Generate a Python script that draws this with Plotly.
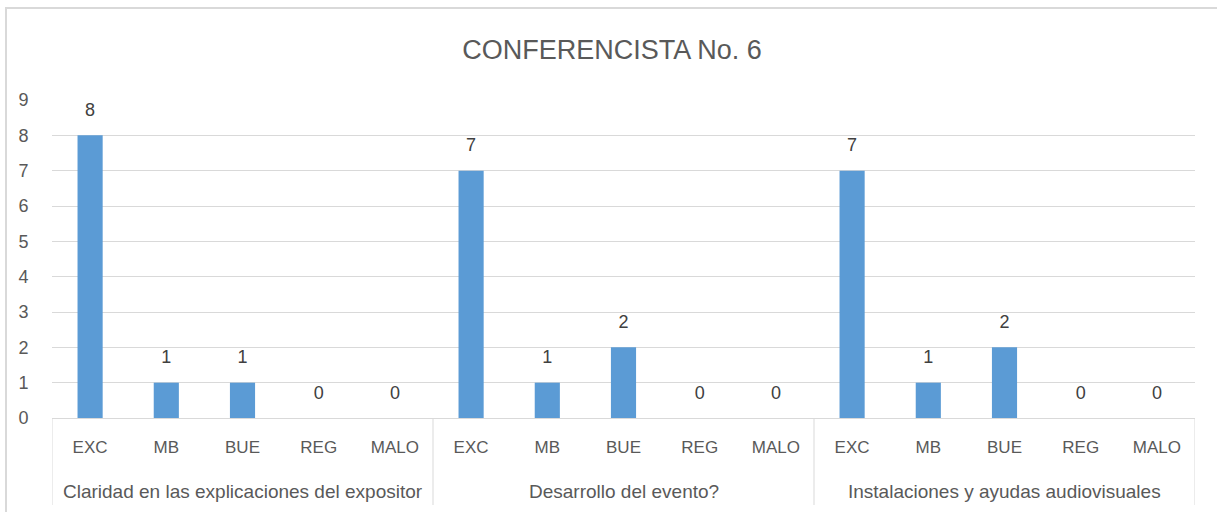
import plotly.graph_objects as go

groups = ["Claridad en las explicaciones del expositor", "Desarrollo del evento?", "Instalaciones y ayudas audiovisuales"]
ratings = ["EXC", "MB", "BUE", "REG", "MALO"]
values = [
    [8, 1, 1, 0, 0],
    [7, 1, 2, 0, 0],
    [7, 1, 2, 0, 0],
]
y_ticks = list(range(0, 10))
title = "CONFERENCISTA No. 6"

n = len(ratings)
xs = list(range(len(groups) * n))
inner = [r for _ in groups for r in ratings]
vals = [v for row in values for v in row]

FONT = "Liberation Sans"
TXT = "#595959"
GRID = "#d9d9d9"

# plot-area geometry (px)
L, R, T, B, W, H = 52, 1195, 100, 418, 1217, 512
PW, PH = R - L, B - T

fig = go.Figure()
fig.add_trace(go.Bar(
    x=xs, y=vals,
    marker=dict(color="#5b9bd5", line=dict(width=0)),
    hoverinfo="y",
))
fig.add_trace(go.Scatter(
    x=xs, y=vals,
    mode="markers+text",
    text=[str(v) for v in vals],
    textposition="top center",
    marker=dict(size=22, opacity=0),
    textfont=dict(family=FONT, size=18, color="#404040"),
    cliponaxis=False,
    hoverinfo="skip",
))

annotations = []
for gi, g in enumerate(groups):
    annotations.append(dict(
        text=g, x=gi * n + (n - 1) / 2, xref="x", y=-73 / PH, yref="paper",
        xanchor="center", yanchor="middle", showarrow=False,
        font=dict(family=FONT, size=19, color=TXT),
    ))

shapes = [
    dict(type="rect", xref="paper", yref="paper",
         x0=(6 - L) / PW, x1=1.05, y0=-0.4, y1=1 + (T - 8) / PH,
         line=dict(color=GRID, width=2), fillcolor="rgba(0,0,0,0)", layer="below"),
]
for k in range(len(groups) + 1):
    shapes.append(dict(
        type="line", xref="x", yref="paper",
        x0=k * n - 0.5, x1=k * n - 0.5, y0=0, y1=-(505 - B) / PH,
        line=dict(color=GRID, width=1),
    ))

fig.update_layout(
    width=W, height=H,
    paper_bgcolor="white", plot_bgcolor="white",
    margin=dict(l=L, r=W - R, t=T, b=H - B, autoexpand=False),
    showlegend=False,
    bargap=0.67,
    title=dict(text=title, x=612 / W, xanchor="center", xref="container",
               y=1 - 50 / H, yanchor="middle", yref="container",
               font=dict(family=FONT, size=27, color=TXT)),
    font=dict(family=FONT, size=17, color=TXT),
    xaxis=dict(
        range=[-0.5, len(xs) - 0.5],
        tickvals=xs, ticktext=inner,
        showline=True, linecolor=GRID, linewidth=1,
        showgrid=False, zeroline=False,
        tickfont=dict(family=FONT, size=17, color=TXT),
        ticks="outside", ticklen=14, tickcolor="rgba(0,0,0,0)",
    ),
    yaxis=dict(
        range=[0, 9], tickvals=y_ticks,
        showgrid=True, gridcolor=GRID, gridwidth=1,
        zeroline=False, showline=False,
        tickfont=dict(family=FONT, size=18, color=TXT),
        ticks="outside", ticklen=19, tickcolor="rgba(0,0,0,0)",
    ),
    annotations=annotations,
    shapes=shapes,
)

fig.write_html("out.html", config={"displayModeBar": False},
               post_script="document.body.style.margin='0';")
